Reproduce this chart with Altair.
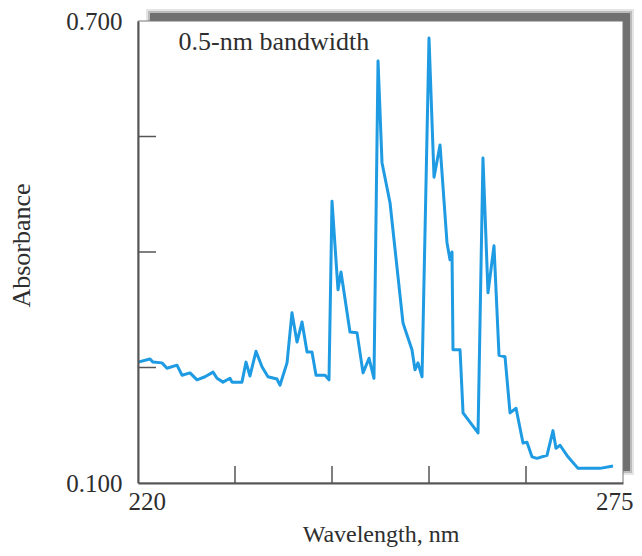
import altair as alt
import pandas as pd

# ---- data ----
wavelength = [220.0, 221.36, 221.70, 222.72, 223.29, 224.42, 224.99, 225.90, 226.69, 227.60,
              228.51, 228.96, 229.64, 230.43, 230.66, 231.79, 232.25, 232.70, 233.38, 234.06,
              234.74, 235.76, 236.10, 236.90, 237.46, 238.03, 238.60, 239.17, 239.73, 240.19,
              241.21, 241.66, 242.00, 242.68, 243.02, 244.04, 244.84, 245.52, 246.20, 246.76,
              247.22, 247.67, 248.58, 250.05, 250.39, 251.07, 251.41, 251.75, 252.21, 253.00,
              253.57, 254.25, 255.04, 255.38, 255.61, 255.72, 256.52, 256.86, 258.56, 259.12,
              259.69, 260.37, 260.94, 261.62, 262.19, 262.87, 263.66, 264.11, 264.68, 265.25,
              266.38, 267.06, 267.40, 267.86, 268.76, 269.90, 272.39, 273.87]
absorbance = [0.257, 0.261, 0.257, 0.256, 0.249, 0.253, 0.240, 0.243, 0.234, 0.238,
              0.244, 0.236, 0.231, 0.236, 0.231, 0.231, 0.257, 0.239, 0.271, 0.251,
              0.238, 0.235, 0.227, 0.256, 0.321, 0.283, 0.309, 0.270, 0.270, 0.240,
              0.240, 0.234, 0.466, 0.351, 0.374, 0.296, 0.295, 0.243, 0.262, 0.236,
              0.648, 0.516, 0.464, 0.308, 0.296, 0.273, 0.247, 0.256, 0.238, 0.678,
              0.497, 0.539, 0.412, 0.390, 0.400, 0.273, 0.273, 0.191, 0.165, 0.522,
              0.347, 0.408, 0.266, 0.264, 0.191, 0.197, 0.152, 0.153, 0.134, 0.132,
              0.136, 0.168, 0.145, 0.149, 0.134, 0.119, 0.119, 0.122]

x_label_values = [220, 275]
y_label_values = [0.1, 0.7]
x_tick_values = [231, 242, 253, 264]
y_tick_values = [0.25, 0.40, 0.55]

annotation_text = ["0.5-nm bandwidth"]
annotation_x = [224.6]
annotation_y = [0.673]

# ---- styling ----
W, H = 485, 462
FONT = "Liberation Serif"
LINE_COLOR = "#1e9be2"
AXIS_COLOR = "#555555"
TEXT_COLOR = "#2e2e2e"

df = pd.DataFrame({"wl": wavelength, "abs": absorbance})
xticks = pd.DataFrame({"x": x_tick_values})
yticks = pd.DataFrame({"y": y_tick_values})
ann = pd.DataFrame({"t": annotation_text, "x": annotation_x, "y": annotation_y})

xs = alt.Scale(domain=[220, 275], nice=False, zero=False)
ys = alt.Scale(domain=[0.1, 0.7], nice=False, zero=False)

one = alt.Data(values=[{"k": 0}])


def shadow(x, x2, y, y2, op):
    return alt.Chart(one).mark_rect(color="#000000", opacity=op).encode(
        x=alt.value(x), x2=alt.value(x2), y=alt.value(y), y2=alt.value(y2)
    )


shadows = [
    shadow(8, 496, -12, 454, 0.10),
    shadow(10, 494, -10, 452, 0.18),
    shadow(12, 492, -8, 450, 0.40),
]

frame = alt.Chart(one).mark_rect(fill="white", stroke="#777777", strokeWidth=1).encode(
    x=alt.value(0), x2=alt.value(W), y=alt.value(0), y2=alt.value(H)
)

line = alt.Chart(df).mark_line(color=LINE_COLOR, strokeWidth=3, strokeJoin="round").encode(
    x=alt.X("wl:Q", scale=xs, axis=alt.Axis(
        values=x_label_values, format="d", title="Wavelength, nm",
        labelFlush=True, labelFlushOffset=10, labelPadding=6, titlePadding=8,
        titleFontSize=24, zindex=1)),
    y=alt.Y("abs:Q", scale=ys, axis=alt.Axis(
        values=y_label_values, format=".3f", title="Absorbance",
        labelPadding=16, titlePadding=31, titleFontSize=26,
        titleY=224, zindex=1)),
)

xtick_layer = alt.Chart(xticks).mark_rule(color=AXIS_COLOR, strokeWidth=1.5).encode(
    x=alt.X("x:Q", scale=xs), y=alt.value(H), y2=alt.value(H - 17)
)
ytick_layer = alt.Chart(yticks).mark_rule(color=AXIS_COLOR, strokeWidth=1.5).encode(
    y=alt.Y("y:Q", scale=ys), x=alt.value(0), x2=alt.value(18)
)

text = alt.Chart(ann).mark_text(
    align="left", baseline="middle", font=FONT, fontSize=26, color=TEXT_COLOR
).encode(x=alt.X("x:Q", scale=xs), y=alt.Y("y:Q", scale=ys), text="t:N")

chart = alt.layer(*shadows, frame, line, xtick_layer, ytick_layer, text).properties(
    width=W, height=H,
    autosize=alt.AutoSizeParams(type="none"),
    padding={"left": 130, "top": 13, "right": 11, "bottom": 65},
).configure_view(strokeWidth=0).configure_axis(
    grid=False, ticks=False,
    domainColor=AXIS_COLOR, domainWidth=2,
    labelFont=FONT, labelFontSize=25, labelColor=TEXT_COLOR,
    titleFont=FONT, titleColor=TEXT_COLOR, titleFontWeight="normal",
)

chart.save("out.html", embed_options={"renderer": "svg", "actions": False})
